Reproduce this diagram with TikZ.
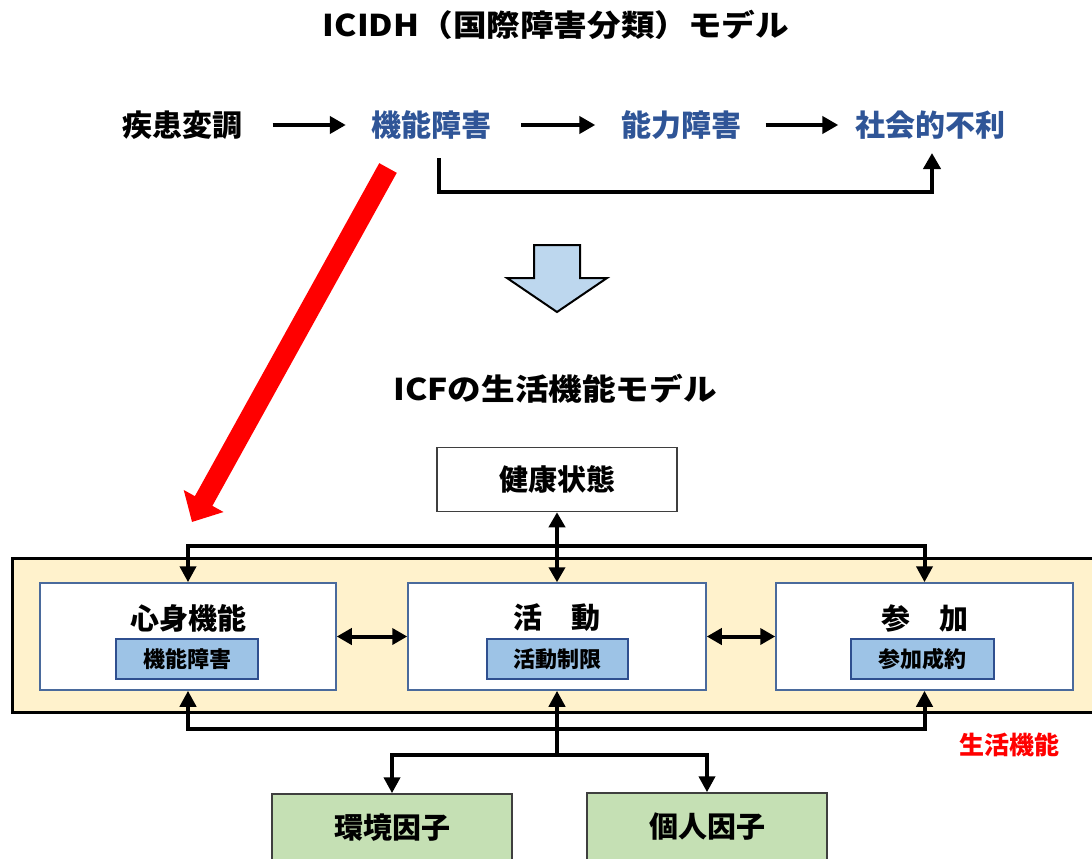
\documentclass[tikz,border=0pt]{standalone}
\usepackage{fontspec}
\setmainfont{Noto Sans CJK JP}
\usetikzlibrary{arrows.meta}
\definecolor{txtblue}{HTML}{2F5597}
\definecolor{beige}{HTML}{FFF2CC}
\definecolor{boxedge}{HTML}{4A6A9C}
\definecolor{innerfill}{HTML}{9DC3E6}
\definecolor{inneredge}{HTML}{2F4F8F}
\definecolor{greenfill}{HTML}{C5E0B4}
\definecolor{greenedge}{HTML}{3F3F3F}
\definecolor{arrowfill}{HTML}{BDD7EE}
\definecolor{redarrow}{HTML}{FF0000}
\definecolor{redtext}{HTML}{FF0000}
\tikzset{
  fs/.style={font={\fontsize{#1}{#1}\selectfont\bfseries}},
  txt/.style={inner sep=0pt},
  flow/.style={line width=4pt,-{Triangle[length=16pt,width=17pt]}},
  conn/.style={line width=4pt},
  tip/.style={-{Triangle[length=16pt,width=16pt]}},
  dtip/.style={{Triangle[length=15pt,width=16pt]}-{Triangle[length=15pt,width=16pt]}},
  fbox/.style={draw=boxedge, line width=1.5pt, fill=white, minimum width=#1,
               minimum height=107pt, inner sep=0pt},
  ibox/.style={draw=inneredge, line width=1.5pt, fill=innerfill, minimum width=#1,
               minimum height=40pt, inner sep=0pt, fs=22pt},
  gbox/.style={draw=greenedge, line width=1.5pt, fill=greenfill, minimum width=240pt,
               minimum height=68pt, inner sep=0pt, fs=29pt},
  hbox/.style={draw=greenedge, line width=1.5pt, fill=white, minimum width=240pt,
               minimum height=64pt, inner sep=0pt, fs=29pt},
}
\begin{document}
\begin{tikzpicture}[x=1pt,y=-1pt]
\useasboundingbox (0,0) rectangle (1092,859);
\clip (0,0) rectangle (1092,859);

% ---------- ICIDH ----------
\node[txt,fs=30pt] (t1) at (556,25) {\scalebox{1.12}[1]{ICIDH（国際障害分類）モデル}};

\node[txt,fs=30pt] (shikkan) at (182.5,125) {疾患変調};
\node[txt,fs=30pt,text=txtblue] (kinou) at (431,125) {機能障害};
\node[txt,fs=30pt,text=txtblue] (nouryoku) at (681.5,125) {能力障害};
\node[txt,fs=30pt,text=txtblue] (shakai) at (930.5,125) {社会的不利};

\draw[flow,shorten <=30pt,shorten >=25pt] (shikkan.east) -- (kinou.west);
\draw[flow,shorten <=30pt,shorten >=26pt] (kinou.east) -- (nouryoku.west);
\draw[flow,shorten <=24pt,shorten >=17pt] (nouryoku.east) -- (shakai.west);

\coordinate (bA) at (439,158);
\coordinate (bB) at (439,192);
\coordinate (bC) at (932,192);
\coordinate (bD) at (932,153);
\draw[flow] (bA) -- (bB) -- (bC) -- (bD);

% red arrow
\coordinate (r1) at (388,168);
\coordinate (r2) at (192,522);
\draw[redarrow,line width=20pt,-{Triangle[length=24pt,width=44pt]}] (r1) -- (r2);

% block arrow
\draw[line width=2pt,fill=arrowfill,line join=miter]
  (534,245) -- (580,245) -- (580,278) -- (607,278) -- (557,312) -- (507,278) -- (534,278) -- cycle;

% ---------- ICF ----------
\node[txt,fs=30pt] (t2) at (555,389) {\scalebox{1.12}[1]{ICFの生活機能モデル}};

\node[hbox] (kenko) at (557,479.5) {健康状態};

\draw[line width=3pt,fill=beige] (12,558) rectangle (1110,712);

\node[fbox=296pt] (shin) at (188,636.5) {};
\node[fbox=298pt] (katsu) at (557,636.5) {};
\node[fbox=297pt] (san) at (924.5,636.5) {};

\node[txt,fs=29pt] (l1) at (188,618) {心身機能};
\node[txt,fs=29pt] (l2) at (557,618) {活　動};
\node[txt,fs=29pt] (l3) at (924.5,618) {参　加};

\node[ibox=142pt] (i1) at (187,659) {機能障害};
\node[ibox=141pt] (i2) at (557.5,659) {活動制限};
\node[ibox=143pt] (i3) at (922.5,659) {参加成約};

\coordinate (top) at (557,546);
\coordinate (bot) at (557,729);
\coordinate (low) at (557,755);

\draw[conn,tip] (katsu.north |- top) -| (shin.north);
\draw[conn,tip] (katsu.north |- top) -| (san.north);
\draw[conn,dtip] (kenko.south) -- (katsu.north);

\draw[conn,dtip] (shin.east) -- (katsu.west);
\draw[conn,dtip] (katsu.east) -- (san.west);

\draw[conn,tip] (katsu.south |- bot) -| (shin.south);
\draw[conn,tip] (katsu.south |- bot) -| (san.south);
\draw[conn,tip] (low) -- (katsu.south);

\node[gbox] (kankyo) at (392,828) {環境因子};
\node[gbox] (kojin) at (707,827) {個人因子};

\draw[conn,tip] (low) -| (kankyo.north);
\draw[conn,tip] (low) -| (kojin.north);

\node[txt,fs=25pt,text=redtext] (seikatsu) at (1009,745) {生活機能};
\end{tikzpicture}
\end{document}
